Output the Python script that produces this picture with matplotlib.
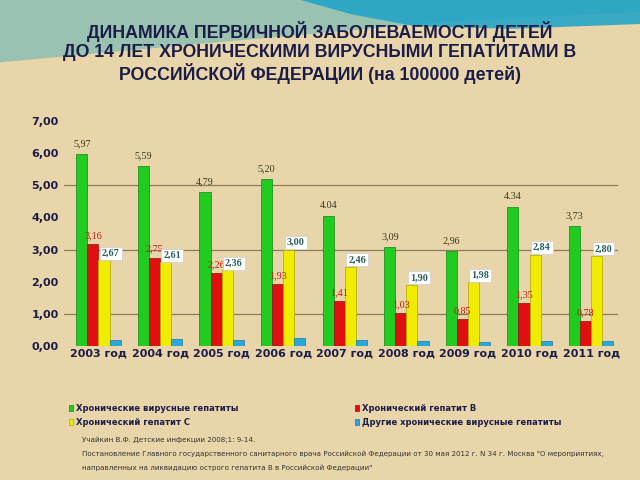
import matplotlib
matplotlib.use("Agg")
import matplotlib.pyplot as plt
import numpy as np
from matplotlib.patches import Polygon

years = ["2003 год", "2004 год", "2005 год", "2006 год", "2007 год",
         "2008 год", "2009 год", "2010 год", "2011 год"]
chronic_all = [5.97, 5.59, 4.79, 5.20, 4.04, 3.09, 2.96, 4.34, 3.73]
chronic_all_lbl = ["5,97", "5,59", "4,79", "5,20", "4.04", "3,09", "2,96", "4.34", "3,73"]
hep_b = [3.16, 2.75, 2.26, 1.93, 1.41, 1.03, 0.85, 1.35, 0.78]
hep_b_lbl = ["3,16", "2,75", "2,26", "1,93", "1,41", "1,03", "0,85", "1,35", "0,78"]
hep_c = [2.67, 2.61, 2.36, 3.00, 2.46, 1.90, 1.98, 2.84, 2.80]
hep_c_lbl = ["2,67", "2,61", "2,36", "3,00", "2,46", "1,90", "1,98", "2,84", "2,80"]
other = [0.19, 0.23, 0.19, 0.25, 0.19, 0.16, 0.12, 0.16, 0.16]
yticks = [0, 1, 2, 3, 4, 5, 6, 7]
ytick_lbl = ["0,00", "1,00", "2,00", "3,00", "4,00", "5,00", "6,00", "7,00"]
series_names = ["Хронические вирусные гепатиты", "Хронический гепатит В",
                "Хронический гепатит С", "Другие хронические вирусные гепатиты"]

title = ("ДИНАМИКА ПЕРВИЧНОЙ ЗАБОЛЕВАЕМОСТИ ДЕТЕЙ\n"
         "ДО 14 ЛЕТ ХРОНИЧЕСКИМИ ВИРУСНЫМИ ГЕПАТИТАМИ В\n"
         "РОССИЙСКОЙ ФЕДЕРАЦИИ (на 100000 детей)")
foot = ("Учайкин В.Ф. Детские инфекции 2008;1: 9-14.\n"
        "Постановление Главного государственного санитарного врача Российской Федерации от 30 мая 2012 г. N 34 г. Москва \"О мероприятиях,\n"
        "направленных на ликвидацию острого гепатита В в Российской Федерации\"")

bg = "#e8d5a9"
fig = plt.figure(figsize=(6.4, 4.8), dpi=100, facecolor=bg)

# decorative top band
fig.patches.append(Polygon([(0, 1), (0, 0.87), (0.2, 0.895), (0.45, 0.925), (0.7, 0.955),
                            (1, 0.975), (1, 1)], closed=True, transform=fig.transFigure,
                           facecolor="#7fbcb4", edgecolor="none", alpha=0.75, zorder=0))
fig.patches.append(Polygon([(0.47, 1), (0.55, 0.97), (0.65, 0.945), (0.8, 0.94), (1, 0.95),
                            (1, 1)], closed=True, transform=fig.transFigure,
                           facecolor="#1aa3c8", edgecolor="none", alpha=0.85, zorder=0))

ax = fig.add_axes([0.10, 0.279, 0.866, 0.469])
ax.set_facecolor("none")
x = np.arange(len(years))
w = 0.18
offs = [-1.5 * w, -0.5 * w, 0.5 * w, 1.5 * w]
colors = ["#1fcc1f", "#e01010", "#f0ec00", "#2aa8dc"]
edges = ["#118811", "#991010", "#b0a800", "#1a78a8"]
data = [chronic_all, hep_b, hep_c, other]
bars = []
for d, o, c, e in zip(data, offs, colors, edges):
    bars.append(ax.bar(x + o + 0.06, d, w, color=c, edgecolor=e, linewidth=0.5, zorder=3))

for xi, v, l in zip(x, chronic_all, chronic_all_lbl):
    ax.text(xi + offs[0] + 0.06, v + 0.18, l, ha="center", va="bottom", fontsize=7.3,
            family="Liberation Serif", color="#3a3a20", zorder=4)
for xi, v, l in zip(x, hep_b, hep_b_lbl):
    ax.text(xi + offs[1] + 0.06, v + 0.12, l, ha="center", va="bottom", fontsize=7.3,
            family="Liberation Serif", color="#c81a10", zorder=4)
for xi, v, l in zip(x, hep_c, hep_c_lbl):
    ax.text(xi + offs[2] + 0.17, v + 0.08, l, ha="center", va="bottom", fontsize=7.3,
            family="Liberation Serif", fontweight="bold", color="#2c6060", zorder=5,
            bbox=dict(boxstyle="square,pad=0.2", facecolor="white", edgecolor="#cccccc", linewidth=0.5))

for g in [1, 3, 5]:
    ax.axhline(g, color="#8c7d5c", linewidth=0.9, zorder=1)

ax.set_xlim(-0.5, len(years) - 0.5)
ax.set_ylim(0, 7)
ax.set_yticks(yticks)
ax.set_yticklabels(ytick_lbl, fontsize=8, fontweight="bold", color="#1c1c48")
ax.set_xticks(x + 0.06)
ax.set_xticklabels(years, fontsize=8, fontweight="bold", color="#1c1c48")
ax.tick_params(axis="y", length=0, pad=4)
ax.tick_params(axis="x", length=0, pad=2)
for s in ax.spines.values():
    s.set_visible(False)

leg_kw = dict(frameon=False, fontsize=6.0, handlelength=0.5, handleheight=0.7,
              handletextpad=0.3, labelspacing=0.6, borderaxespad=0, borderpad=0)
leg1 = fig.legend([bars[0][0], bars[2][0]], [series_names[0], series_names[2]],
                  loc="upper left", bbox_to_anchor=(0.108, 0.158), **leg_kw)
leg2 = fig.legend([bars[1][0], bars[3][0]], [series_names[1], series_names[3]],
                  loc="upper left", bbox_to_anchor=(0.555, 0.158), **leg_kw)
for leg in (leg1, leg2):
    for t in leg.get_texts():
        t.set_color("#1c1c48")
        t.set_fontweight("bold")

fig.text(0.5, 0.957, title, ha="center", va="top", fontsize=12.8, fontweight="bold",
         family="Liberation Sans", color="#1c1c48", linespacing=1.16)
fig.text(0.128, 0.090, foot, ha="left", va="top", fontsize=5.1, color="#333333",
         linespacing=2.3)

fig.savefig("out.png", dpi=100, facecolor=bg)
